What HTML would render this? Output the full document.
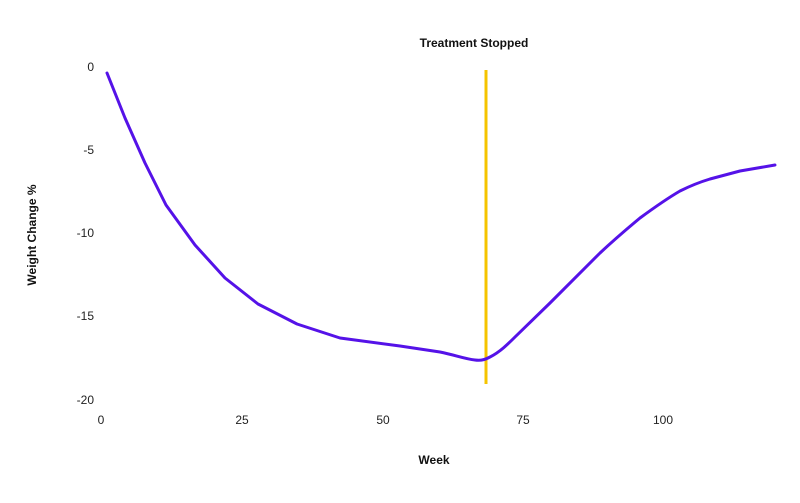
<!DOCTYPE html>
<html><head><meta charset="utf-8"><style>
html,body{margin:0;padding:0;background:#fff;}
svg{display:block;font-family:"Liberation Sans",sans-serif;}
</style></head><body>
<svg width="800" height="503" viewBox="0 0 800 503" xmlns="http://www.w3.org/2000/svg">
<rect width="800" height="503" fill="#fff"/>
<g font-size="12" fill="#222" text-anchor="end">
<text x="94" y="71">0</text>
<text x="94" y="154">-5</text>
<text x="94" y="237">-10</text>
<text x="94" y="320">-15</text>
<text x="94" y="404">-20</text>
</g>
<g font-size="12" fill="#222" text-anchor="middle">
<text x="101" y="424">0</text>
<text x="242" y="424">25</text>
<text x="383" y="424">50</text>
<text x="523" y="424">75</text>
<text x="663" y="424">100</text>
</g>
<text x="434" y="464" font-size="12" font-weight="bold" text-anchor="middle" fill="#111">Week</text>
<text x="36" y="235" font-size="12" font-weight="bold" text-anchor="middle" fill="#111" transform="rotate(-90 36 235)">Weight Change %</text>
<text x="474" y="47" font-size="12" font-weight="bold" text-anchor="middle" fill="#111">Treatment Stopped</text>
<line x1="486" y1="70" x2="486" y2="384" stroke="#f5c400" stroke-width="3"/>
<path d="M107,73 L125,118 L145,163 L166,205 L195,245 L225,278 L258,304 L297,324 L340,338 L400,346 L440,352 C455,355 465,359 475,360 C482,361 486,359 490,357 C500,352 508,344 515,337 L550,303 L600,253 C615,239 628,228 640,218 C655,207 668,198 680,191 C692,185 700,182 710,179 L740,171 L775,165" fill="none" stroke="#5512e8" stroke-width="3" stroke-linejoin="round" stroke-linecap="round"/>
</svg>
</body></html>
